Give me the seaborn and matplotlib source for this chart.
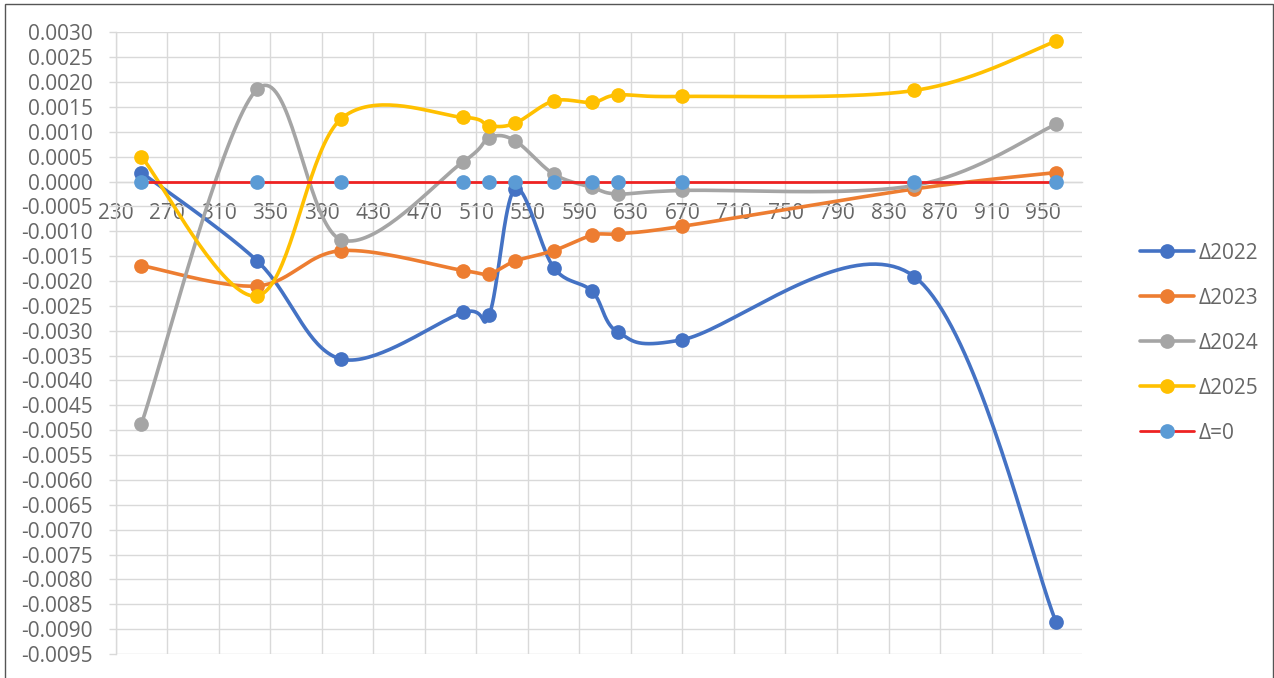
import numpy as np
import pandas as pd
import matplotlib
matplotlib.use("Agg")  # no display
import matplotlib.pyplot as plt
from matplotlib.lines import Line2D
from matplotlib.patches import Rectangle
from matplotlib.ticker import FixedLocator, MultipleLocator, FuncFormatter
import seaborn as sns

# values
x_vals = [250, 340, 405, 500, 520, 540, 570, 600, 620, 670, 850, 960]
d2022 = [0.00018, -0.00160, -0.00357, -0.00263, -0.00268, -0.00015,
         -0.00173, -0.00221, -0.00303, -0.00318, -0.00191, -0.00885]
d2023 = [-0.00169, -0.00210, -0.00139, -0.00179, -0.00185, -0.00160,
         -0.00139, -0.00108, -0.00105, -0.00090, -0.00015, 0.00018]
d2024 = [-0.00487, 0.00186, -0.00117, 0.00040, 0.00088, 0.00082,
         0.00015, -0.00012, -0.00025, -0.00018, -0.00008, 0.00115]
d2025 = [0.00050, -0.00230, 0.00126, 0.00129, 0.00112, 0.00117,
         0.00162, 0.00159, 0.00174, 0.00171, 0.00183, 0.00282]
d_zero = [0.0, 0.0, 0.0, 0.0, 0.0, 0.0, 0.0, 0.0, 0.0, 0.0, 0.0, 0.0]

series_names = ["Δ2022", "Δ2023", "Δ2024", "Δ2025", "Δ=0"]
series_values = [d2022, d2023, d2024, d2025, d_zero]
line_colors = ["#4472C4", "#ED7D31", "#A5A5A5", "#FFC000", "#EE2222"]
marker_colors = ["#4472C4", "#ED7D31", "#A5A5A5", "#FFC000", "#5B9BD5"]

x_ticks = [230, 270, 310, 350, 390, 430, 470, 510, 550, 590, 630, 670,
           710, 750, 790, 830, 870, 910, 950]
x_range = (230, 980)
y_range = (-0.0095, 0.0030)

TEXT = "#666666"
GRID = "#d9d9d9"

sns.set_theme(style="whitegrid", rc={"grid.color": GRID, "grid.linewidth": 1.0})
plt.rcParams["font.family"] = ["Open Sans", "DejaVu Sans"]


def smooth(ax, xs, ys, n=40):
    """Excel-like smoothed line: Catmull-Rom bezier done in screen space."""
    pts = ax.transData.transform(np.column_stack([xs, ys]))
    p = np.vstack([pts[0], pts, pts[-1]])
    t = np.linspace(0, 1, n)[:, None]
    out = []
    for i in range(1, len(p) - 2):
        p0, p1, p2, p3 = p[i - 1], p[i], p[i + 1], p[i + 2]
        c1 = p1 + (p2 - p0) / 6
        c2 = p2 - (p3 - p1) / 6
        seg = (1 - t) ** 3 * p1 + 3 * (1 - t) ** 2 * t * c1 + 3 * (1 - t) * t ** 2 * c2 + t ** 3 * p2
        out.append(seg if i == 1 else seg[1:])
    return ax.transData.inverted().transform(np.vstack(out))


fig = plt.figure(figsize=(12.74, 6.78), dpi=100)
ax = fig.add_axes([115.7 / 1274, 1 - 654 / 678, (1081.7 - 115.7) / 1274, (654 - 32.3) / 678])
ax.set_xlim(*x_range)
ax.set_ylim(*y_range)

handles = []
for k, (name, vals) in enumerate(zip(series_names, series_values)):
    curve = smooth(ax, x_vals, vals)
    df_line = pd.DataFrame({"x": curve[:, 0], "y": curve[:, 1]})
    lw = 2.0 if name == "Δ=0" else 2.6
    sns.lineplot(data=df_line, x="x", y="y", sort=False, estimator=None,
                 color=line_colors[k], linewidth=lw, ax=ax, zorder=3 + 2 * k)
    df_pts = pd.DataFrame({"x": x_vals, "y": vals})
    sns.scatterplot(data=df_pts, x="x", y="y", color=marker_colors[k], s=112,
                    linewidth=0, ax=ax, zorder=4 + 2 * k)
    handles.append(Line2D([], [], color=line_colors[k], linewidth=lw, marker="o",
                          markersize=10.6, markerfacecolor=marker_colors[k],
                          markeredgewidth=0, label=name))

ax.set_xlim(*x_range)
ax.set_ylim(*y_range)
ax.set_xlabel("")
ax.set_ylabel("")

ax.xaxis.set_major_locator(FixedLocator(x_ticks))
ax.yaxis.set_major_locator(MultipleLocator(0.0005))
ax.yaxis.set_major_formatter(FuncFormatter(lambda v, pos: "%.4f" % (0.0 if abs(v) < 1e-9 else v)))
ax.xaxis.set_major_formatter(FuncFormatter(lambda v, pos: "%d" % round(v)))

ax.spines["bottom"].set_position(("data", 0))
for side in ["top", "right"]:
    ax.spines[side].set_visible(False)
for side in ["bottom", "left"]:
    ax.spines[side].set_color(GRID)
    ax.spines[side].set_linewidth(1.0)

ax.tick_params(axis="y", which="major", left=True, direction="out", length=5.3,
               width=1.0, color=GRID, pad=11, labelsize=15, labelcolor=TEXT)
ax.tick_params(axis="x", which="major", bottom=True, length=0, pad=15.5,
               labelsize=15, labelcolor=TEXT)
ax.grid(True, color=GRID, linewidth=1.0)
ax.set_axisbelow(True)

fig.legend(handles=handles, loc="center left", bbox_to_anchor=(1140 / 1274, 1 - 343.2 / 678),
           frameon=False, borderpad=0, borderaxespad=0, handlelength=2.6,
           handletextpad=0.2, labelspacing=1.15, fontsize=15, labelcolor=TEXT)

# thin dark frame around the whole chart area
fig.patches.append(Rectangle((4.5 / 1274, -0.01), 1268 / 1274, 1.01 - 4.5 / 678,
                             transform=fig.transFigure, fill=False,
                             edgecolor="#555555", linewidth=1.0))

fig.savefig("out.png", dpi=100)
